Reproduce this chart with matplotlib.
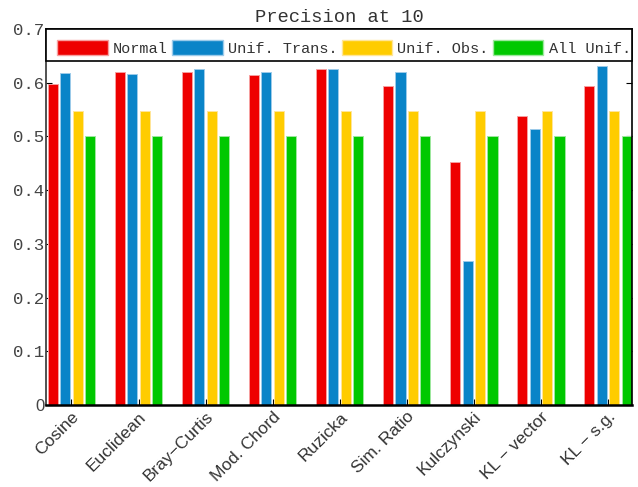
import matplotlib.pyplot as plt
import matplotlib.patches as mpatches
import matplotlib.transforms as mtransforms
import numpy as np

# data
measures = ['Cosine', 'Euclidean', 'Bray\u2212Curtis', 'Mod. Chord', 'Ruzicka',
            'Sim. Ratio', 'Kulczynski', 'KL \u2212 vector', 'KL \u2212 s.g.']
normal = [0.598, 0.620, 0.620, 0.614, 0.625, 0.594, 0.452, 0.538, 0.594]
unif_trans = [0.619, 0.616, 0.625, 0.620, 0.625, 0.620, 0.268, 0.513, 0.631]
unif_obs = [0.548, 0.548, 0.548, 0.548, 0.548, 0.548, 0.548, 0.548, 0.548]
all_unif = [0.5, 0.5, 0.5, 0.5, 0.5, 0.5, 0.5, 0.5, 0.5]
series_names = ['Normal', 'Unif. Trans.', 'Unif. Obs.', 'All Unif.']
yticks = [0, 0.1, 0.2, 0.3, 0.4, 0.5, 0.6, 0.7]

colors = ['#EE0000', '#0A84C8', '#FFCC00', '#00C800']
edges = ['#F7A0A0', '#9CCBEA', '#FFE699', '#9EE89E']

fig = plt.figure(figsize=(6.38, 4.87), dpi=100)
ax = fig.add_axes([0.0721, 0.1684, 0.9185, 0.772])

x = np.arange(1, len(measures) + 1)
step = 0.186
w = 0.15
handles = []
for i, vals in enumerate([normal, unif_trans, unif_obs, all_unif]):
    ax.bar(x + (i - 1.5) * step, vals, w, color=colors[i],
           edgecolor=edges[i], linewidth=0.7, zorder=2)
    handles.append(mpatches.Patch(facecolor=colors[i], edgecolor=edges[i]))

ax.set_xlim(0.62, 9.36)
ax.set_ylim(0, 0.7)
ax.set_yticks(yticks)
ylabels = ax.set_yticklabels(['0'] + ['%.1f' % v for v in yticks[1:]],
                             family='Liberation Mono', fontsize=12.5, color='#444444')
ylabels[0].set_family('Liberation Sans')
ylabels[0].set_fontsize(12)
ax.set_xticks(x)
xlabels = ax.set_xticklabels(measures, rotation=45, ha='right', va='top',
                             rotation_mode='anchor', family='Liberation Sans',
                             fontsize=12.5, color='#333333')
# nudge labels right/up like the original
offset = mtransforms.ScaledTranslation(6 / 100, 3 / 100, fig.dpi_scale_trans)
for lab in xlabels:
    lab.set_transform(lab.get_transform() + offset)
ax.tick_params(axis='y', direction='in', length=4, right=True, pad=1)
ax.tick_params(axis='x', direction='in', length=4, pad=3)
for s in ax.spines.values():
    s.set_color('black')
    s.set_linewidth(1.2)
ax.spines['left'].set_color('#333333')
ax.spines['bottom'].set_linewidth(1.8)

ax.set_title('Precision at 10', family='Liberation Mono', fontsize=13.5,
             color='#333333', pad=5)

# legend box spanning the axes width
box = mpatches.Rectangle((0, 0.915), 1, 0.085, transform=ax.transAxes,
                         facecolor='white', edgecolor='black', linewidth=1.2,
                         zorder=5, clip_on=False)
ax.add_patch(box)
leg = ax.legend(handles, series_names, ncol=4, loc='upper left',
                bbox_to_anchor=(0.0, 1.0), frameon=False,
                prop={'family': 'Liberation Mono', 'size': 11},
                handlelength=3.3, handleheight=1.05, handletextpad=0.33,
                columnspacing=0.3, borderaxespad=0.35, borderpad=0.4)
leg.set_zorder(6)
for t in leg.get_texts():
    t.set_color('#333333')

fig.savefig('out.png', dpi=100)
